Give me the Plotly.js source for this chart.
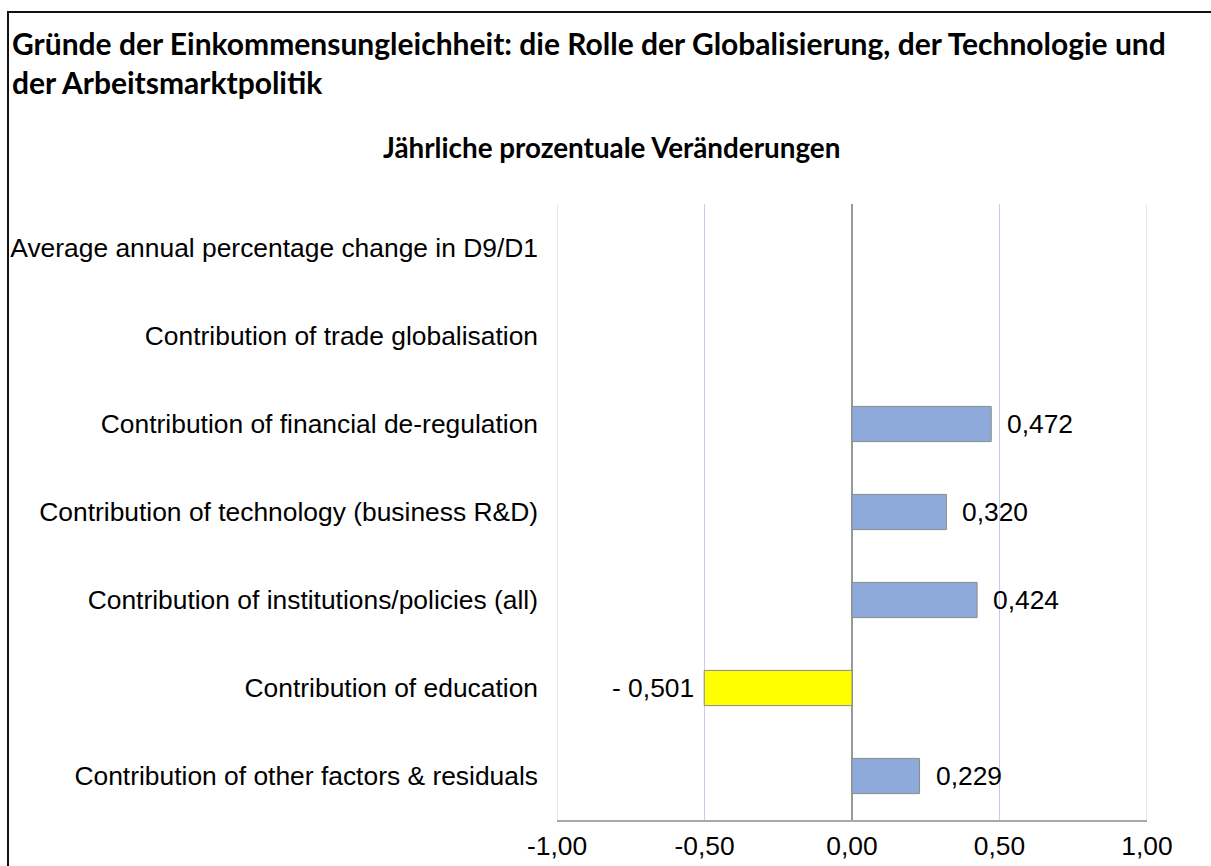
<!DOCTYPE html>
<html><head><meta charset="utf-8">
<script src="https://cdn.plot.ly/plotly-3.0.1.min.js"></script>
<style>
html,body{margin:0;padding:0;background:#fff;}
#chart{position:absolute;left:0;top:0;width:1211px;height:866px;}
#frame{position:absolute;left:7px;top:11px;width:1204px;height:855px;border-top:2px solid #111;border-left:2px solid #111;box-sizing:border-box;pointer-events:none;}
</style></head>
<body>
<div id="chart"></div>
<div id="frame"></div>
<script>
const categories = [
  "Average annual percentage change in D9/D1",
  "Contribution of trade globalisation",
  "Contribution of financial de-regulation",
  "Contribution of technology (business R&D)",
  "Contribution of institutions/policies (all)",
  "Contribution of education",
  "Contribution of other factors & residuals"
];
const values = [null, null, 0.472, 0.320, 0.424, -0.501, 0.229];
const barColors = ["#8eaadb", "#8eaadb", "#8eaadb", "#8eaadb", "#8eaadb", "#ffff00", "#8eaadb"];
const xTicks = [-1, -0.5, 0, 0.5, 1];
const xTickLabels = ["-1,00", "-0,50", "0,00", "0,50", "1,00"];

const LABEL_FONT = "Liberation Sans, Arial, sans-serif";
const TITLE_FONT = "Lato, Carlito, sans-serif";
const ML = 557, MT = 204;

function fmt(v){
  const s = Math.abs(v).toFixed(3).replace(".", ",");
  return v < 0 ? "- " + s : s;
}

const trace = {
  type: "bar",
  orientation: "h",
  y: categories,
  x: values,
  marker: {color: barColors, line: {color: "#8a8a8a", width: 1}},
  hoverinfo: "skip"
};

const annotations = [];
categories.forEach((c, i) => {
  const v = values[i];
  if (v === null) return;
  annotations.push({
    x: v, y: c, xref: "x", yref: "y",
    text: fmt(v), showarrow: false,
    xanchor: v < 0 ? "right" : "left",
    xshift: v < 0 ? -8 : 14,
    font: {family: LABEL_FONT, size: 26.4, color: "#000"}
  });
});

annotations.push({
  text: "<b>Gründe der Einkommensungleichheit: die Rolle der Globalisierung, der Technologie und<br>der Arbeitsmarktpolitik</b>",
  xref: "paper", yref: "paper", x: 0, y: 1, xshift: 10 - ML, yshift: MT - 62,
  xanchor: "left", yanchor: "middle", align: "left", showarrow: false,
  font: {family: TITLE_FONT, size: 30, color: "#000"}
});

annotations.push({
  text: "<b>Jährliche prozentuale Veränderungen</b>",
  xref: "paper", yref: "paper", x: 0.093, y: 1, yshift: 57,
  xanchor: "center", yanchor: "middle", showarrow: false,
  font: {family: TITLE_FONT, size: 27.8, color: "#000"}
});

const shapes = [-1, 1].map(v => ({
  type: "line", xref: "x", yref: "paper", x0: v, x1: v, y0: 0, y1: 1,
  line: {color: "#c3ccf0", width: 1}, layer: "below"
}));

const layout = {
  width: 1211, height: 866,
  margin: {l: ML, r: 64, t: MT, b: 46},
  paper_bgcolor: "#fff", plot_bgcolor: "#fff",
  showlegend: false,
  bargap: 0.6,
  xaxis: {
    range: [-1, 1], tickvals: xTicks, ticktext: xTickLabels,
    showgrid: true, gridcolor: "#c3ccf0", gridwidth: 1,
    zeroline: true, zerolinecolor: "#999", zerolinewidth: 1.5,
    showline: true, linecolor: "#aaa", linewidth: 2,
    ticks: "", ticklabelstandoff: 1,
    tickfont: {family: LABEL_FONT, size: 26.4, color: "#000"},
    fixedrange: true
  },
  yaxis: {
    type: "category", autorange: "reversed",
    showgrid: false, zeroline: false, showline: false, ticks: "",
    ticklabelstandoff: 18,
    tickfont: {family: LABEL_FONT, size: 26.4, color: "#000"},
    fixedrange: true
  },
  shapes: shapes,
  annotations: annotations
};

Plotly.newPlot("chart", [trace], layout, {displayModeBar: false, staticPlot: true});
</script>
</body></html>
